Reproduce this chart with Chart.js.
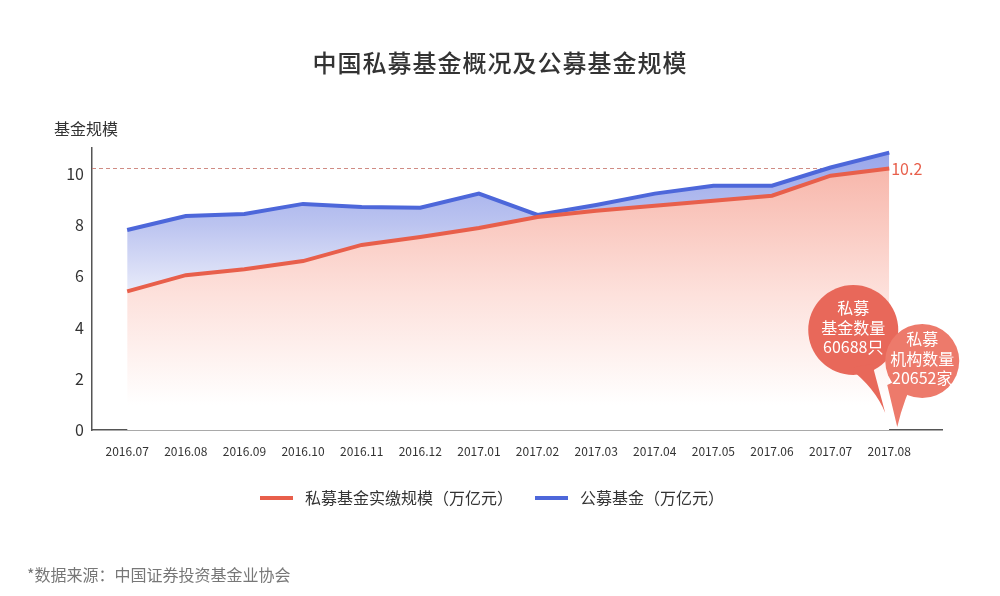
<!DOCTYPE html>
<html>
<head>
<meta charset="utf-8">
<script src="https://cdn.jsdelivr.net/npm/chart.js@4.4.0/dist/chart.umd.min.js"></script>
<style>
  html, body { margin: 0; padding: 0; background: #fff; }
  #wrap { width: 1000px; height: 596px; }
</style>
</head>
<body>
<div id="wrap"><canvas id="fundChart" width="1000" height="596"></canvas></div>
<script>
const months = ['2016.07', '2016.08', '2016.09', '2016.10', '2016.11', '2016.12', '2017.01',
  '2017.02', '2017.03', '2017.04', '2017.05', '2017.06', '2017.07', '2017.08'];
const privateScale = [5.41, 6.04, 6.27, 6.59, 7.22, 7.53, 7.88, 8.31, 8.55, 8.75, 8.94, 9.14, 9.92, 10.2];
const publicScale = [7.8, 8.35, 8.43, 8.82, 8.7, 8.67, 9.22, 8.39, 8.78, 9.22, 9.53, 9.53, 10.24, 10.82];
const yTicks = [0, 2, 4, 6, 8, 10];
const seriesNames = ['私募基金实缴规模（万亿元）', '公募基金（万亿元）'];
const bubbleTexts = [['私募', '基金数量', '60688只'], ['私募', '机构数量', '20652家']];

const FONT = "'Noto Sans CJK SC', 'Noto Sans', sans-serif";
const RED = '#e85f4b';
const BLUE = '#4d67da';

function redFill(context) {
  const ctx = context.chart.ctx;
  const g = ctx.createLinearGradient(0, 160, 0, 405);
  g.addColorStop(0, '#f7b4a8');
  g.addColorStop(0.55, '#fde1dc');
  g.addColorStop(1, '#ffffff');
  return g;
}

function blueFill(context) {
  const ctx = context.chart.ctx;
  const g = ctx.createLinearGradient(0, 150, 0, 300);
  g.addColorStop(0, '#97a5ea');
  g.addColorStop(0.5, '#bcc4f0');
  g.addColorStop(1, '#eef0fb');
  return g;
}

// titles, legend, reference line, bubbles
const overlay = {
  id: 'overlay',
  beforeDatasetsDraw(chart) {
    const ctx = chart.ctx;
    const xs = chart.scales.x, ys = chart.scales.y;
    const last = privateScale.length - 1;
    const y = ys.getPixelForValue(privateScale[last]);
    ctx.save();
    ctx.strokeStyle = 'rgba(200,120,110,0.85)';
    ctx.lineWidth = 1;
    ctx.setLineDash([4, 3]);
    ctx.beginPath();
    ctx.moveTo(xs.left, y);
    ctx.lineTo(xs.getPixelForValue(last), y);
    ctx.stroke();
    ctx.restore();
  },
  afterDraw(chart) {
    const ctx = chart.ctx;
    const xs = chart.scales.x, ys = chart.scales.y;
    const last = privateScale.length - 1;
    ctx.save();

    // title
    ctx.fillStyle = '#333';
    ctx.font = '500 24px ' + FONT;
    ctx.textAlign = 'center';
    ctx.textBaseline = 'middle';
    if ('letterSpacing' in ctx) ctx.letterSpacing = '1px';
    ctx.fillText('中国私募基金概况及公募基金规模', 500, 63);
    if ('letterSpacing' in ctx) ctx.letterSpacing = '0px';

    // y axis title
    ctx.font = '16px ' + FONT;
    ctx.textAlign = 'left';
    ctx.fillText('基金规模', 54, 129);

    // end value label
    ctx.fillStyle = RED;
    ctx.font = '16px ' + FONT;
    ctx.fillText(String(privateScale[last]), xs.getPixelForValue(last) + 2, ys.getPixelForValue(privateScale[last]));

    // legend
    const colors = [RED, BLUE];
    const starts = [260, 535];
    ctx.font = '16px ' + FONT;
    seriesNames.forEach((name, i) => {
      ctx.fillStyle = colors[i];
      ctx.fillRect(starts[i], 496, 33, 4);
      ctx.fillStyle = '#333';
      ctx.fillText(name, starts[i] + 45, 498);
    });

    // source
    ctx.fillStyle = '#777';
    ctx.fillText('*数据来源：中国证券投资基金业协会', 27, 575);

    // speech bubbles
    const xl = xs.getPixelForValue(last);
    const yb = ys.bottom;
    const bubbles = [
      { cx: xl - 36, cy: yb - 100, r: 45, color: '#e8685a',
        tail: [[xl - 40, yb - 62], [xl - 14, yb - 42], [xl - 4, yb - 17], [xl - 17, yb - 66]], curveLeft: true },
      { cx: xl + 33, cy: yb - 69, r: 37, color: '#ed7a6b',
        tail: [[xl - 2, yb - 45], [xl + 14, yb - 30], [xl + 8, yb - 3], [xl + 29, yb - 60]], curveLeft: false }
    ];
    bubbles.forEach((b, i) => {
      ctx.fillStyle = b.color;
      ctx.beginPath();
      ctx.arc(b.cx, b.cy, b.r, 0, Math.PI * 2);
      ctx.fill();
      const [p0, c, tip, p1] = b.tail;
      ctx.beginPath();
      ctx.moveTo(p0[0], p0[1]);
      if (b.curveLeft) {
        ctx.quadraticCurveTo(c[0], c[1], tip[0], tip[1]);
        ctx.lineTo(p1[0], p1[1]);
      } else {
        ctx.lineTo(tip[0], tip[1]);
        ctx.quadraticCurveTo(c[0], c[1], p1[0], p1[1]);
      }
      ctx.closePath();
      ctx.fill();

      ctx.fillStyle = '#fff';
      ctx.font = '16px ' + FONT;
      ctx.textAlign = 'center';
      bubbleTexts[i].forEach((t, k) => {
        ctx.fillText(t, b.cx, b.cy - 22 + k * 19.5);
      });
    });

    ctx.restore();
  }
};

const ctx = document.getElementById('fundChart').getContext('2d');
new Chart(ctx, {
  type: 'line',
  data: {
    datasets: [
      {
        label: seriesNames[0],
        data: privateScale.map((v, i) => ({ x: i, y: v })),
        borderColor: RED,
        backgroundColor: redFill,
        borderWidth: 4,
        fill: 'origin',
        pointRadius: 0,
        tension: 0
      },
      {
        label: seriesNames[1],
        data: publicScale.map((v, i) => ({ x: i, y: v })),
        borderColor: BLUE,
        backgroundColor: blueFill,
        borderWidth: 4,
        fill: '-1',
        pointRadius: 0,
        tension: 0
      }
    ]
  },
  options: {
    responsive: false,
    animation: false,
    layout: { padding: { left: 42, right: 58, top: 148, bottom: 126 } },
    scales: {
      x: {
        type: 'linear',
        z: 1,
        min: -0.6,
        max: 13.9,
        afterBuildTicks: s => { s.ticks = months.map((m, i) => ({ value: i })); },
        afterFit: s => { s.height = 40; },
        grid: { display: false, drawTicks: false },
        border: { display: true, color: '#555', width: 1.5 },
        ticks: {
          autoSkip: false,
          maxRotation: 0,
          padding: 14,
          color: '#333',
          font: { family: FONT, size: 12 },
          callback: v => months[v]
        }
      },
      y: {
        z: 1,
        min: 0,
        max: 11,
        afterBuildTicks: s => { s.ticks = yTicks.map(v => ({ value: v })); },
        afterFit: s => { s.width = 50; },
        grid: { display: false, drawTicks: false },
        border: { display: true, color: '#555', width: 1.5 },
        ticks: {
          padding: 8,
          color: '#333',
          font: { family: FONT, size: 16 }
        }
      }
    },
    plugins: {
      legend: { display: false },
      tooltip: { enabled: false }
    }
  },
  plugins: [overlay]
});
</script>
</body>
</html>
